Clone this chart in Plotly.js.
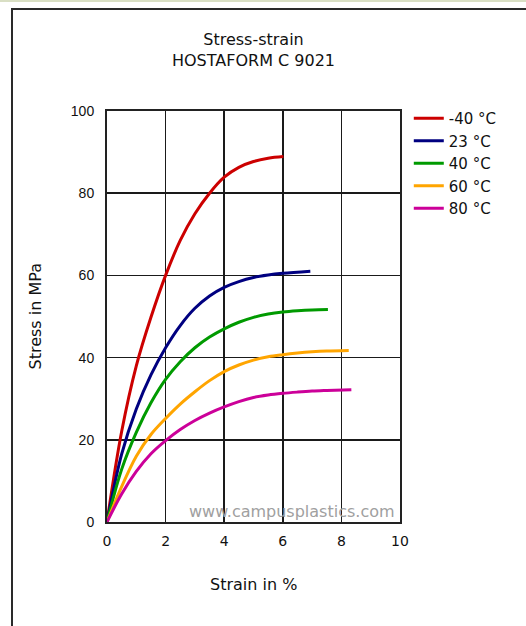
<!DOCTYPE html>
<html>
<head>
<meta charset="utf-8">
<script src="https://cdn.plot.ly/plotly-3.0.1.min.js"></script>
<style>
  html, body { margin: 0; padding: 0; background: #fff; }
  #wrap { position: relative; width: 526px; height: 626px; overflow: hidden; }
  #strip { position: absolute; left: 0; top: 0; width: 526px; height: 2px; background: #d9dfc4; }
  #frame { position: absolute; left: 11px; top: 8px; width: 600px; height: 700px;
           border-left: 2px solid #2a2a2a; border-top: 2px solid #2a2a2a; }
  #chart { position: absolute; left: 0; top: 0; width: 526px; height: 626px; }
</style>
</head>
<body>
<div id="wrap">
  <div id="strip"></div>
  <div id="frame"></div>
  <div id="chart"></div>
</div>
<script>
// ---- data ----
const seriesNames = ["-40 \u00B0C", "23 \u00B0C", "40 \u00B0C", "60 \u00B0C", "80 \u00B0C"];
const seriesColors = ["#cc0000", "#000080", "#009a00", "#ffa500", "#cc0099"];

const strainM40 = [0, 0.5, 1.0, 1.5, 2.0, 2.5, 3.0, 3.5, 4.0, 4.5, 5.0, 5.5, 6.02];
const stressM40 = [0, 22, 38, 49.8, 60, 68.5, 75, 80, 83.9, 86.3, 87.7, 88.5, 88.9];

const strain23 = [0, 0.5, 1.0, 1.5, 2.0, 2.5, 3.0, 3.5, 4.0, 4.5, 5.0, 5.5, 6.0, 6.94];
const stress23 = [0, 16.5, 27.5, 35.8, 42.4, 47.8, 52.0, 55.0, 57.1, 58.5, 59.5, 60.1, 60.5, 61.0];

const strain40 = [0, 0.5, 1.0, 1.5, 2.0, 2.5, 3.0, 3.5, 4.0, 4.5, 5.0, 5.5, 6.0, 6.5, 7.0, 7.54];
const stress40 = [0, 12.8, 21.8, 29.0, 34.7, 39.0, 42.4, 45.0, 47.0, 48.6, 49.8, 50.6, 51.1, 51.4, 51.6, 51.7];

const strain60 = [0, 0.5, 1.0, 1.5, 2.0, 2.5, 3.0, 3.5, 4.0, 4.5, 5.0, 5.5, 6.0, 6.5, 7.0, 7.5, 8.25];
const stress60 = [0, 8.6, 16.0, 21.3, 25.2, 28.7, 31.7, 34.4, 36.6, 38.2, 39.4, 40.2, 40.7, 41.1, 41.4, 41.6, 41.75];

const strain80 = [0, 0.5, 1.0, 1.5, 2.0, 2.5, 3.0, 3.5, 4.0, 4.5, 5.0, 5.5, 6.0, 6.5, 7.0, 7.5, 8.34];
const stress80 = [0, 6.8, 12.3, 16.6, 19.8, 22.5, 24.7, 26.5, 28.0, 29.3, 30.3, 30.9, 31.3, 31.6, 31.85, 32.0, 32.2];

const xTicks = [0, 2, 4, 6, 8, 10];
const yTicks = [0, 20, 40, 60, 80, 100];

const titleText = "Stress-strain<br>HOSTAFORM C 9021";
const xTitle = "Strain in %";
const yTitle = "Stress in MPa";
const watermark = "www.campusplastics.com";

// ---- build ----
const xs = [strainM40, strain23, strain40, strain60, strain80];
const ys = [stressM40, stress23, stress40, stress60, stress80];

const traces = xs.map((x, i) => ({
  x: x, y: ys[i], type: "scatter", mode: "lines",
  name: seriesNames[i],
  line: { color: seriesColors[i], width: 3, shape: "spline", smoothing: 1 },
  hoverinfo: "skip"
}));

const textFont = "DejaVu Sans, Tahoma, sans-serif";

const layout = {
  width: 526, height: 626,
  paper_bgcolor: "rgba(0,0,0,0)", plot_bgcolor: "#ffffff",
  margin: { l: 107, r: 126, t: 111, b: 104 },
  showlegend: true,
  title: {
    text: titleText,
    font: { family: textFont, size: 16, color: "#111" },
    x: 0.5, xref: "paper", xanchor: "center",
    y: 1 - 45 / 626, yref: "container", yanchor: "middle"
  },
  xaxis: {
    range: [0, 10], tickvals: xTicks, ticktext: xTicks.map(String),
    showgrid: true, gridcolor: "#1a1a1a", gridwidth: 1.5,
    showline: true, mirror: true, linecolor: "#222", linewidth: 2,
    zeroline: false, ticks: "outside", ticklen: 5, tickcolor: "rgba(0,0,0,0)",
    tickfont: { family: textFont, size: 14, color: "#111" }
  },
  yaxis: {
    range: [0, 100], tickvals: yTicks, ticktext: yTicks.map(String),
    showgrid: true, gridcolor: "#1a1a1a", gridwidth: 1.5,
    showline: true, mirror: true, linecolor: "#222", linewidth: 2,
    zeroline: false, ticks: "outside", ticklen: 8, tickcolor: "rgba(0,0,0,0)",
    tickfont: { family: "Liberation Sans, Arial, sans-serif", size: 14, color: "#111" }
  },
  legend: {
    x: 1.03, xanchor: "left", y: 1.022, yanchor: "top",
    bgcolor: "rgba(0,0,0,0)", borderwidth: 0,
    font: { family: textFont, size: 15, color: "#111" },
    tracegroupgap: 0, itemwidth: 30
  },
  annotations: [
    { text: xTitle, xref: "paper", yref: "paper", x: 0.5, y: -62 / 411,
      xanchor: "center", yanchor: "middle", showarrow: false,
      font: { family: textFont, size: 16, color: "#111" } },
    { text: yTitle, xref: "paper", yref: "paper", x: -72 / 293, y: 0.5,
      xanchor: "center", yanchor: "middle", showarrow: false, textangle: -90,
      font: { family: textFont, size: 16, color: "#111" } },
    { text: watermark, xref: "paper", yref: "paper", x: (292 - 107) / 293, y: (522 - 511.5) / 411,
      xanchor: "center", yanchor: "middle", showarrow: false,
      font: { family: textFont, size: 16, color: "#a0a0a0" } }
  ]
};

Plotly.newPlot("chart", traces, layout, { displayModeBar: false, staticPlot: true });
</script>
</body>
</html>
